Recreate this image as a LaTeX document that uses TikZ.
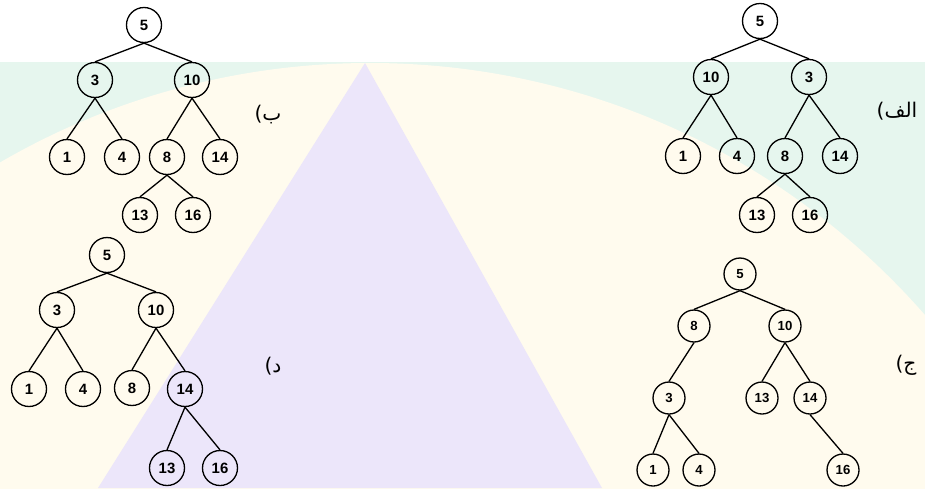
\documentclass[tikz,border=0pt]{standalone}
\usepackage{fontspec}
\setmainfont{Liberation Sans}
\newfontfamily\arabicfont[Script=Arabic]{DejaVu Sans}
\TeXXeTstate=1
\usepackage{xcolor}
\usetikzlibrary{positioning}
\definecolor{bgmint}{RGB}{230,246,238}
\definecolor{bgcream}{RGB}{255,251,238}
\definecolor{bglilac}{RGB}{236,230,250}

\begin{document}
\begin{tikzpicture}[x=0.02cm, y=-0.02cm,
    key/.style={circle, draw, line width=0.75pt, minimum size=0.7cm, inner sep=0pt, font=\fontsize{8.5}{9}\selectfont\bfseries},
    smallkey/.style={key, minimum size=0.64cm, font=\fontsize{7.5}{9}\selectfont\bfseries},
    branch/.style={line width=0.75pt},
    caption/.style={font=\arabicfont\fontsize{11.5}{13}\selectfont}]
    \useasboundingbox (0,0) rectangle (925,488);
    \clip (0,0) rectangle (925,488);
    \fill[white] (0,0) rectangle (925,488);
    \fill[bgmint] (0,62) rectangle (925,488);
    \fill[bgcream] (370,800) circle (737);
    \fill[bglilac] (365,63) -- (602,488) -- (98,488) -- cycle;

    \node (a5) [key] at (760,21) {5};
    \node (a10) [key] at (711,77) {10};
    \node (a3) [key] at (809,77) {3};
    \node (a1) [key] at (683,156) {1};
    \node (a4) [key] at (737,156) {4};
    \node (a8) [key] at (785,156) {8};
    \node (a14) [key] at (840,156) {14};
    \node (a13) [key] at (757,215) {13};
    \node (a16) [key] at (810,215) {16};
    \node (la) [caption] at (897,111) {\beginR الف)\endR};

    \node (b5) [key] at (144,25) {5};
    \node (b3) [key] at (95,80) {3};
    \node (b10) [key] at (192,80) {10};
    \node (b1) [key] at (67,157) {1};
    \node (b4) [key] at (122,157) {4};
    \node (b8) [key] at (167,157) {8};
    \node (b14) [key] at (220,157) {14};
    \node (b13) [key] at (140,215) {13};
    \node (b16) [key] at (193,215) {16};
    \node (lb) [caption] at (268,115) {\beginR ب)\endR};

    \node (c5) [smallkey] at (740,274) {5};
    \node (c8) [smallkey] at (694,326) {8};
    \node (c10) [smallkey] at (785,326) {10};
    \node (c3) [smallkey] at (669,398) {3};
    \node (c13) [smallkey] at (762,398) {13};
    \node (c14) [smallkey] at (810,398) {14};
    \node (c1) [smallkey] at (653,470) {1};
    \node (c4) [smallkey] at (699,470) {4};
    \node (c16) [smallkey] at (843,470) {16};
    \node (lc) [caption] at (906,365) {\beginR ج)\endR};

    \node (d5) [key] at (107,255) {5};
    \node (d3) [key] at (57,310) {3};
    \node (d10) [key] at (156,310) {10};
    \node (d1) [key] at (29,389) {1};
    \node (d4) [key] at (83,389) {4};
    \node (d8) [key] at (132,388) {8};
    \node (d14) [key] at (185,389) {14};
    \node (d13) [key] at (167,468) {13};
    \node (d16) [key] at (220,468) {16};
    \node (ld) [caption] at (273,366) {\beginR د)\endR};

    \foreach \p/\c in {a5/a10, a5/a3, a10/a1, a10/a4, a3/a8, a3/a14, a8/a13, a8/a16,
                       b5/b3, b5/b10, b3/b1, b3/b4, b10/b8, b10/b14, b8/b13, b8/b16,
                       c5/c8, c5/c10, c8/c3, c10/c13, c10/c14, c3/c1, c3/c4, c14/c16,
                       d5/d3, d5/d10, d3/d1, d3/d4, d10/d8, d10/d14, d14/d13, d14/d16}
        \draw [branch] (\p.south) -- (\c.north);
\end{tikzpicture}
\end{document}
